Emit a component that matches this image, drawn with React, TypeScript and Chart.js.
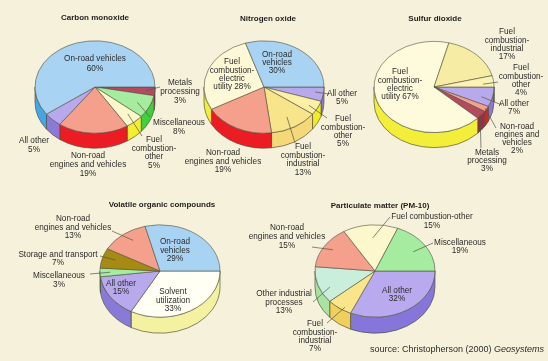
import React, { useEffect, useRef } from 'react';
import { Chart, registerables } from 'chart.js';

Chart.register(...registerables);

const W = 548;
const H = 361;
const FONT = '"Liberation Sans", Arial, Helvetica, sans-serif';
const BG = '#f6f1da';
const EDGE = 'rgba(80,80,60,0.85)';
const TEXT = '#2b2b2b';

// ---------- DATA ----------
// Carbon monoxide (clockwise from 3 o'clock)
const coCategories = ['Metals processing', 'Miscellaneous', 'Fuel combustion-other', 'Non-road engines and vehicles', 'All other', 'On-road vehicles'];
const coValues = [3, 8, 5, 19, 5, 60];

// Nitrogen oxide
const noxCategories = ['All other', 'Fuel combustion-other', 'Fuel combustion-industrial', 'Non-road engines and vehicles', 'Fuel combustion-electric utility', 'On-road vehicles'];
const noxValues = [5, 5, 13, 19, 28, 30];

// Sulfur dioxide
const so2Categories = ['All other', 'Non-road engines and vehicles', 'Metals processing', 'Fuel combustion-electric utility', 'Fuel combustion-industrial', 'Fuel combustion-other'];
const so2Values = [7, 2, 3, 67, 17, 4];

// Volatile organic compounds
const vocCategories = ['Solvent utilization', 'All other', 'Miscellaneous', 'Storage and transport', 'Non-road engines and vehicles', 'On-road vehicles'];
const vocValues = [33, 15, 3, 7, 13, 29];

// Particulate matter (PM-10)
const pmCategories = ['All other', 'Fuel combustion-industrial', 'Other industrial processes', 'Non-road engines and vehicles', 'Fuel combustion-other', 'Miscellaneous'];
const pmValues = [32, 7, 13, 15, 15, 19];

// ---------- STYLES / LAYOUT ----------
type Lead = { t: number; f: number; x: number; y: number };
type Label = { i: number; lines: string[]; x: number; y: number; lh: number; lead?: Lead };
type PieSpec = {
  title: string; tx: number; ty: number;
  cx: number; cy: number; r: number; tilt: number; depth: number;
  categories: string[]; values: number[]; top: string[]; side: string[];
  labels: Label[];
};

const BLUE = '#a9d3f3', BLUE_S = '#44a6ea';
const SALMON = '#f4a08c', RED_S = '#ec1c24';
const LAV = '#b8a8ec', LAV_S = '#8a7ad8';
const GREEN = '#a6eca0', GREEN_S = '#3fcf3f';
const CREAM = '#fcf7cc', YEL_S = '#f4ee30';
const MAROON = '#b44a60', MAROON_S = '#9c2c44';

const specs: PieSpec[] = [
  {
    title: 'Carbon monoxide', tx: 95, ty: 18,
    cx: 95, cy: 87, r: 60, tilt: 0.77, depth: 15,
    categories: coCategories, values: coValues,
    top: [MAROON, GREEN, CREAM, SALMON, LAV, BLUE],
    side: [MAROON_S, GREEN_S, YEL_S, RED_S, LAV_S, BLUE_S],
    labels: [
      { i: 5, lines: ['On-road vehicles', '{v}%'], x: 95, y: 59, lh: 9.5 },
      { i: 0, lines: ['Metals', 'processing', '{v}%'], x: 180, y: 83, lh: 9, lead: { t: 0.5, f: 0.85, x: 160, y: 87 } },
      { i: 1, lines: ['Miscellaneous', '{v}%'], x: 179, y: 123, lh: 8.5, lead: { t: 0.5, f: 0.78, x: 150, y: 117 } },
      { i: 2, lines: ['Fuel', 'combustion-', 'other', '{v}%'], x: 154, y: 140, lh: 8.5, lead: { t: 0.4, f: 0.8, x: 142, y: 136 } },
      { i: 3, lines: ['Non-road', 'engines and vehicles', '{v}%'], x: 88, y: 156, lh: 8.7 },
      { i: 4, lines: ['All other', '{v}%'], x: 34, y: 141, lh: 9 },
    ],
  },
  {
    title: 'Nitrogen oxide', tx: 268, ty: 19,
    cx: 264, cy: 87, r: 60, tilt: 0.77, depth: 15,
    categories: noxCategories, values: noxValues,
    top: [LAV, '#fbf0a6', '#f8e48a', SALMON, '#fdf9d6', BLUE],
    side: [LAV_S, '#f4ec22', '#f5d878', RED_S, '#f3ee3a', BLUE_S],
    labels: [
      { i: 5, lines: ['On-road', 'vehicles', '{v}%'], x: 277, y: 55, lh: 8 },
      { i: 4, lines: ['Fuel', 'combustion-', 'electric', 'utility {v}%'], x: 232, y: 62, lh: 8.4 },
      { i: 0, lines: ['All other', '{v}%'], x: 342, y: 94, lh: 7.8, lead: { t: 0.4, f: 0.86, x: 329, y: 94 } },
      { i: 1, lines: ['Fuel', 'combustion-', 'other', '{v}%'], x: 343, y: 119, lh: 8.4, lead: { t: 0.55, f: 0.85, x: 327, y: 118 } },
      { i: 2, lines: ['Fuel', 'combustion-', 'industrial', '{v}%'], x: 303, y: 147, lh: 8.6, lead: { t: 0.5, f: 0.75, x: 295, y: 143 } },
      { i: 3, lines: ['Non-road', 'engines and vehicles', '{v}%'], x: 223, y: 153, lh: 8.6 },
    ],
  },
  {
    title: 'Sulfur dioxide', tx: 435, ty: 19,
    cx: 434, cy: 87, r: 60, tilt: 0.76, depth: 15,
    categories: so2Categories, values: so2Values,
    top: [LAV, SALMON, MAROON, '#fdfbdc', '#f6eca4', '#fbf3b6'],
    side: [LAV_S, RED_S, MAROON_S, '#f3ee3a', '#f3ee3a', '#f3ee3a'],
    labels: [
      { i: 4, lines: ['Fuel', 'combustion-', 'industrial', '{v}%'], x: 507, y: 32, lh: 8.3 },
      { i: 5, lines: ['Fuel', 'combustion-', 'other', '{v}%'], x: 521, y: 68, lh: 8.3, lead: { t: 0.7, f: 0.82, x: 498, y: 82 } },
      { i: 3, lines: ['Fuel', 'combustion-', 'electric', 'utility {v}%'], x: 400, y: 72, lh: 8.3 },
      { i: 0, lines: ['All other', '{v}%'], x: 514, y: 104, lh: 8, lead: { t: 0.6, f: 0.82, x: 502, y: 105 } },
      { i: 1, lines: ['Non-road', 'engines and', 'vehicles', '{v}%'], x: 517, y: 127, lh: 8, lead: { t: 0.5, f: 0.97, x: 496, y: 128 } },
      { i: 2, lines: ['Metals', 'processing', '{v}%'], x: 487, y: 153, lh: 7.8, lead: { t: 0.5, f: 0.97, x: 481, y: 148 } },
    ],
  },
  {
    title: 'Volatile organic compounds', tx: 162, ty: 205,
    cx: 160, cy: 271, r: 60, tilt: 0.77, depth: 16,
    categories: vocCategories, values: vocValues,
    top: ['#fffff4', LAV, GREEN, '#a68a14', SALMON, BLUE],
    side: ['#f4f1a0', LAV_S, GREEN_S, '#7a6408', RED_S, BLUE_S],
    labels: [
      { i: 5, lines: ['On-road', 'vehicles', '{v}%'], x: 175, y: 242, lh: 8.5 },
      { i: 4, lines: ['Non-road', 'engines and vehicles', '{v}%'], x: 73, y: 219, lh: 8.5, lead: { t: 0.58, f: 0.8, x: 112, y: 231 } },
      { i: 3, lines: ['Storage and transport', '{v}%'], x: 58, y: 255, lh: 7.5, lead: { t: 0.56, f: 0.78, x: 100, y: 256 } },
      { i: 2, lines: ['Miscellaneous', '{v}%'], x: 59, y: 276, lh: 8.5, lead: { t: 0.5, f: 0.83, x: 90, y: 274 } },
      { i: 1, lines: ['All other', '{v}%'], x: 121, y: 284, lh: 8 },
      { i: 0, lines: ['Solvent', 'utilization', '{v}%'], x: 173, y: 292, lh: 8.3 },
    ],
  },
  {
    title: 'Particulate matter (PM-10)', tx: 380, ty: 206,
    cx: 375, cy: 271, r: 60, tilt: 0.77, depth: 16,
    categories: pmCategories, values: pmValues,
    top: ['#b9aaf0', '#f9e68a', '#c9eedc', SALMON, CREAM, GREEN],
    side: ['#8676da', '#f1cf5c', '#a8e4a0', RED_S, YEL_S, GREEN_S],
    labels: [
      { i: 4, lines: ['Fuel combustion-other', '{v}%'], x: 432, y: 217, lh: 8.5, lead: { t: 0.53, f: 0.72, x: 390, y: 217 } },
      { i: 5, lines: ['Miscellaneous', '{v}%'], x: 460, y: 243, lh: 8, lead: { t: 0.51, f: 0.76, x: 433, y: 243 } },
      { i: 3, lines: ['Non-road', 'engines and vehicles', '{v}%'], x: 287, y: 228, lh: 9, lead: { t: 0.52, f: 0.84, x: 312, y: 247 } },
      { i: 2, lines: ['Other industrial', 'processes', '{v}%'], x: 284, y: 294, lh: 8.5, lead: { t: 0.35, f: 0.83, x: 313, y: 302 } },
      { i: 1, lines: ['Fuel', 'combustion-', 'industrial', '{v}%'], x: 315, y: 324, lh: 8.3, lead: { t: 0.34, f: 0.93, x: 327, y: 323 } },
      { i: 0, lines: ['All other', '{v}%'], x: 397, y: 291, lh: 7.5 },
    ],
  },
];

function Pie3D({ spec }: { spec: PieSpec }) {
  const ref = useRef<HTMLCanvasElement>(null);
  useEffect(() => {
    const canvas = ref.current;
    if (!canvas) return;
    const s = spec;
    const plugin = {
      id: 'pie3d',
      beforeDatasetsDraw(chart: any) {
        const ctx = chart.ctx as CanvasRenderingContext2D;
        ctx.save();
        const arcs = chart.getDatasetMeta(0).data as any[];
        if (!arcs.length) return;
        const cx = arcs[0].x, cy = arcs[0].y, r = arcs[0].outerRadius;
        const ry = r * s.tilt;
        arcs.forEach((arc: any, i: number) => {
          const st = arc.startAngle, en = arc.endAngle;
          for (let k = -1; k <= 2; k++) {
            const lo = Math.max(st, k * 2 * Math.PI);
            const hi = Math.min(en, k * 2 * Math.PI + Math.PI);
            if (hi > lo) {
              ctx.beginPath();
              ctx.ellipse(cx, cy, r, ry, 0, lo, hi);
              ctx.ellipse(cx, cy + s.depth, r, ry, 0, hi, lo, true);
              ctx.closePath();
              ctx.fillStyle = s.side[i];
              ctx.fill();
              ctx.lineWidth = 0.8;
              ctx.strokeStyle = EDGE;
              ctx.stroke();
            }
          }
        });
        ctx.translate(cx, cy);
        ctx.scale(1, s.tilt);
        ctx.translate(-cx, -cy);
      },
      afterDatasetsDraw(chart: any) {
        const ctx = chart.ctx as CanvasRenderingContext2D;
        ctx.restore();
        const arcs = chart.getDatasetMeta(0).data as any[];
        if (!arcs.length) return;
        const cx = arcs[0].x, cy = arcs[0].y, r = arcs[0].outerRadius;
        ctx.save();
        // title
        ctx.fillStyle = '#1e1e1e';
        ctx.font = `bold 8px ${FONT}`;
        ctx.textAlign = 'center';
        ctx.textBaseline = 'middle';
        ctx.fillText(s.title, s.tx, s.ty);
        // labels
        s.labels.forEach((lb) => {
          const arc = arcs[lb.i];
          if (lb.lead && arc) {
            const a = arc.startAngle + lb.lead.t * (arc.endAngle - arc.startAngle);
            const px = cx + lb.lead.f * r * Math.cos(a);
            const py = cy + lb.lead.f * r * s.tilt * Math.sin(a);
            ctx.beginPath();
            ctx.moveTo(px, py);
            ctx.lineTo(lb.lead.x, lb.lead.y);
            ctx.lineWidth = 0.7;
            ctx.strokeStyle = '#555548';
            ctx.stroke();
          }
          ctx.fillStyle = TEXT;
          ctx.font = `8.2px ${FONT}`;
          lb.lines.forEach((ln, j) => {
            ctx.fillText(ln.replace('{v}', String(s.values[lb.i])), lb.x, lb.y + j * lb.lh);
          });
        });
        ctx.restore();
      },
    };
    const chart = new Chart(canvas, {
      type: 'pie',
      data: {
        labels: s.categories,
        datasets: [{
          data: s.values,
          backgroundColor: s.top,
          borderColor: EDGE,
          borderWidth: 0.8,
          rotation: 90,
          radius: s.r,
        } as any],
      },
      options: {
        responsive: false,
        maintainAspectRatio: false,
        animation: false,
        devicePixelRatio: 1,
        events: [],
        rotation: 90,
        radius: s.r,
        layout: {
          padding: {
            left: s.cx - s.r,
            right: W - s.cx - s.r,
            top: s.cy - s.r,
            bottom: H - s.cy - s.r,
          },
        },
        plugins: {
          legend: { display: false },
          tooltip: { enabled: false },
          title: { display: false },
        },
      } as any,
      plugins: [plugin],
    });
    return () => chart.destroy();
  }, [spec]);
  return (
    <canvas
      ref={ref}
      width={W}
      height={H}
      style={{ position: 'absolute', left: 0, top: 0, width: W, height: H }}
    />
  );
}

export default function App() {
  return (
    <div
      style={{
        position: 'fixed',
        left: 0,
        top: 0,
        width: W,
        height: H,
        background: BG,
        overflow: 'hidden',
      }}
    >
      {specs.map((sp) => (
        <Pie3D key={sp.title} spec={sp} />
      ))}
      <div
        style={{
          position: 'absolute',
          right: 4,
          top: 344,
          fontFamily: FONT,
          fontSize: 9,
          lineHeight: '11px',
          color: '#2b2b2b',
          whiteSpace: 'nowrap',
        }}
      >
        source: Christopherson (2000) <i>Geosystems</i>
      </div>
    </div>
  );
}
